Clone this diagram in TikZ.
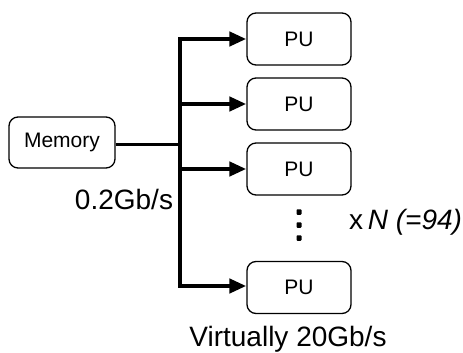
\documentclass[tikz,border=0pt]{standalone}
\usepackage{fontspec}
\setmainfont{Liberation Sans}
\usetikzlibrary{arrows.meta}
\begin{document}
\begin{tikzpicture}[x=1pt,y=-1pt,
  box/.style={draw,line width=1.3pt,rounded corners=9pt,inner sep=0pt},
  pubox/.style={box,minimum width=104pt,minimum height=52pt,font=\fontsize{21}{23}\selectfont},
  membox/.style={box,minimum width=106pt,minimum height=51pt,font=\fontsize{21}{23}\selectfont},
  bus/.style={line width=4.5pt},
  feed/.style={line width=4.5pt,-{Triangle[length=17pt,width=14pt]}},
  lbl/.style={font=\fontsize{28}{30}\selectfont,inner sep=0pt},
  dot/.style={fill,minimum width=5pt,minimum height=5.5pt,inner sep=0pt,rounded corners=0.8pt}]
\useasboundingbox (0,0) rectangle (463,353);
\node[membox] (mem) at (62,142.5) {Memory};
\node[pubox] (p1) at (299,39) {PU};
\node[pubox] (p2) at (299,104) {PU};
\node[pubox] (p3) at (299,169) {PU};
\node[pubox] (p4) at (299,287.5) {PU};
\coordinate (top) at (180,39);
\coordinate (bot) at (180,286);
\coordinate (b2) at (180,104);
\coordinate (b3) at (180,169);
\coordinate (bm) at (180,144);
\draw[line width=3pt] (mem.east |- bm) -- (bm);
\draw[bus,line join=miter] (p1.west) ++(-17,0) -- (top) -- (bot) -- ++(17,0);
\draw[feed] (top) -- (p1.west);
\draw[feed] (b2) -- (p2.west);
\draw[feed] (b3) -- (p3.west);
\draw[feed] (bot) -- (p4.west |- bot);
\node[dot] (d1) at (299,212) {};
\node[dot] (d2) at (299,225) {};
\node[dot] (d3) at (299,238) {};
\node[lbl] (bw) at (124,199) {0.2Gb/s};
\node[lbl,anchor=west] (n) at (349,222) {x\,\itshape N (=94)};
\node[lbl] (v) at (288,339) {Virtually 20Gb/s};
\end{tikzpicture}
\end{document}
